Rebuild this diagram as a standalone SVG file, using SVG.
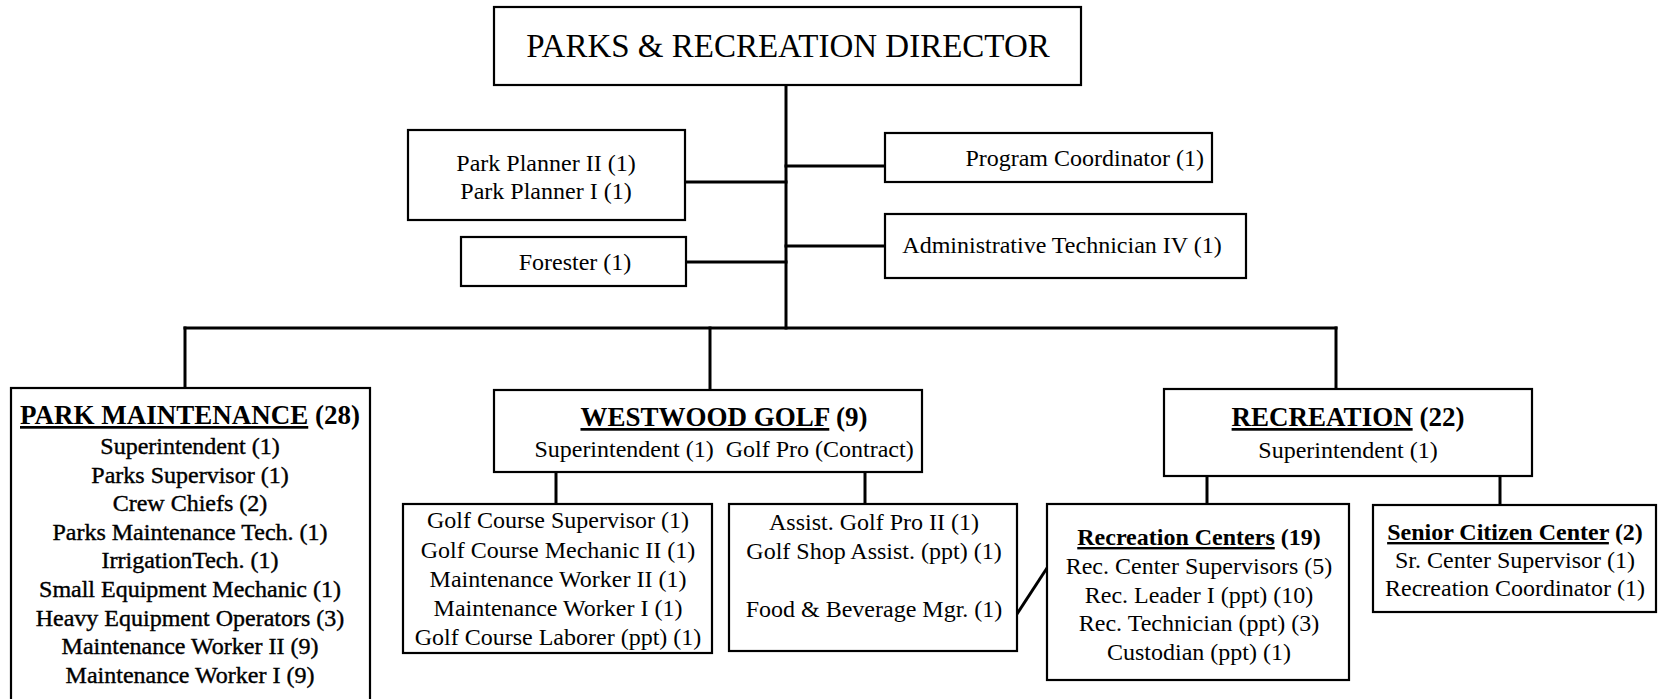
<svg xmlns="http://www.w3.org/2000/svg" width="1659" height="699" viewBox="0 0 1659 699">
<style>
  .box { fill: #fff; stroke: #000; stroke-width: 2.2; }
  .conn { stroke: #000; stroke-width: 3; fill: none; stroke-linecap: square; }
  text { font-family: "Liberation Serif", "Times New Roman", serif; font-size: 24px; fill: #000; text-anchor: middle; }
  .title { font-size: 33px; }
  .hd { font-weight: bold; font-size: 27px; }
  .hs { font-weight: bold; font-size: 24px; }
  .u { text-decoration: underline; }
  .heavy { stroke: #000; stroke-width: 0.4; }
</style>
<rect width="1659" height="699" fill="#fff"/>
<g id="connectors">
  <line class="conn" x1="786" y1="85" x2="786" y2="328"/>
  <line class="conn" x1="685" y1="182" x2="786" y2="182"/>
  <line class="conn" x1="686" y1="262" x2="786" y2="262"/>
  <line class="conn" x1="786" y1="166" x2="885" y2="166"/>
  <line class="conn" x1="786" y1="246" x2="885" y2="246"/>
  <line class="conn" x1="185" y1="328" x2="1336" y2="328"/>
  <line class="conn" x1="185" y1="328" x2="185" y2="388"/>
  <line class="conn" x1="710" y1="328" x2="710" y2="390"/>
  <line class="conn" x1="1336" y1="328" x2="1336" y2="389"/>
  <line class="conn" x1="556" y1="472" x2="556" y2="504"/>
  <line class="conn" x1="865" y1="472" x2="865" y2="504"/>
  <line class="conn" x1="1207" y1="476" x2="1207" y2="504"/>
  <line class="conn" x1="1500" y1="476" x2="1500" y2="505"/>
  <line class="conn" x1="1017" y1="614" x2="1047" y2="568"/>
</g>
<g id="director">
  <rect class="box" x="494" y="7" width="587" height="78"/>
  <text class="title" x="788" y="57">PARKS &amp; RECREATION DIRECTOR</text>
</g>
<g id="park-planner">
  <rect class="box" x="408" y="130" width="277" height="90"/>
  <text x="546" y="171">Park Planner II (1)</text>
  <text x="546" y="199">Park Planner I (1)</text>
</g>
<g id="forester">
  <rect class="box" x="461" y="237" width="225" height="49"/>
  <text x="575" y="270">Forester (1)</text>
</g>
<g id="program-coordinator">
  <rect class="box" x="885" y="133" width="327" height="49"/>
  <text x="1204" y="166" style="text-anchor:end">Program Coordinator (1)</text>
</g>
<g id="admin-tech">
  <rect class="box" x="885" y="214" width="361" height="64"/>
  <text x="1062" y="253">Administrative Technician IV (1)</text>
</g>
<g id="park-maintenance">
  <rect class="box" x="11" y="388" width="359" height="330"/>
  <text x="190" y="424" class="hd"><tspan class="u">PARK MAINTENANCE</tspan> (28)</text>
  <text class="heavy" x="190" y="454">Superintendent (1)</text>
  <text class="heavy" x="190" y="483">Parks Supervisor (1)</text>
  <text class="heavy" x="190" y="511">Crew Chiefs (2)</text>
  <text class="heavy" x="190" y="540">Parks Maintenance Tech. (1)</text>
  <text class="heavy" x="190" y="568">IrrigationTech. (1)</text>
  <text class="heavy" x="190" y="597">Small Equipment Mechanic (1)</text>
  <text class="heavy" x="190" y="626">Heavy Equipment Operators (3)</text>
  <text class="heavy" x="190" y="654">Maintenance Worker II (9)</text>
  <text class="heavy" x="190" y="683">Maintenance Worker I (9)</text>
</g>
<g id="westwood-golf">
  <rect class="box" x="494" y="390" width="428" height="82"/>
  <text x="724" y="426" class="hd"><tspan class="u">WESTWOOD GOLF</tspan> (9)</text>
  <text x="724" y="457" xml:space="preserve">Superintendent (1)  Golf Pro (Contract)</text>
</g>
<g id="recreation">
  <rect class="box" x="1164" y="389" width="368" height="87"/>
  <text x="1348" y="426" class="hd"><tspan class="u">RECREATION</tspan> (22)</text>
  <text x="1348" y="458">Superintendent (1)</text>
</g>
<g id="golf-course">
  <rect class="box" x="403" y="504" width="309" height="149"/>
  <text x="558" y="528">Golf Course Supervisor (1)</text>
  <text x="558" y="558">Golf Course Mechanic II (1)</text>
  <text x="558" y="587">Maintenance Worker II (1)</text>
  <text x="558" y="616">Maintenance Worker I (1)</text>
  <text x="558" y="645">Golf Course Laborer (ppt) (1)</text>
</g>
<g id="golf-pro-shop">
  <rect class="box" x="729" y="504" width="288" height="147"/>
  <text x="874" y="530">Assist. Golf Pro II (1)</text>
  <text x="874" y="559">Golf Shop Assist. (ppt) (1)</text>
  <text x="874" y="617">Food &amp; Beverage Mgr. (1)</text>
</g>
<g id="recreation-centers">
  <rect class="box" x="1047" y="504" width="302" height="176"/>
  <text x="1199" y="545" class="hs"><tspan class="u">Recreation Centers</tspan> (19)</text>
  <text x="1199" y="574">Rec. Center Supervisors (5)</text>
  <text x="1199" y="603">Rec. Leader I (ppt) (10)</text>
  <text x="1199" y="631">Rec. Technician (ppt) (3)</text>
  <text x="1199" y="660">Custodian (ppt) (1)</text>
</g>
<g id="senior-center">
  <rect class="box" x="1373" y="505" width="283" height="107"/>
  <text x="1515" y="540" class="hs"><tspan class="u">Senior Citizen Center</tspan> (2)</text>
  <text x="1515" y="568">Sr. Center Supervisor (1)</text>
  <text x="1515" y="596">Recreation Coordinator (1)</text>
</g>
</svg>
